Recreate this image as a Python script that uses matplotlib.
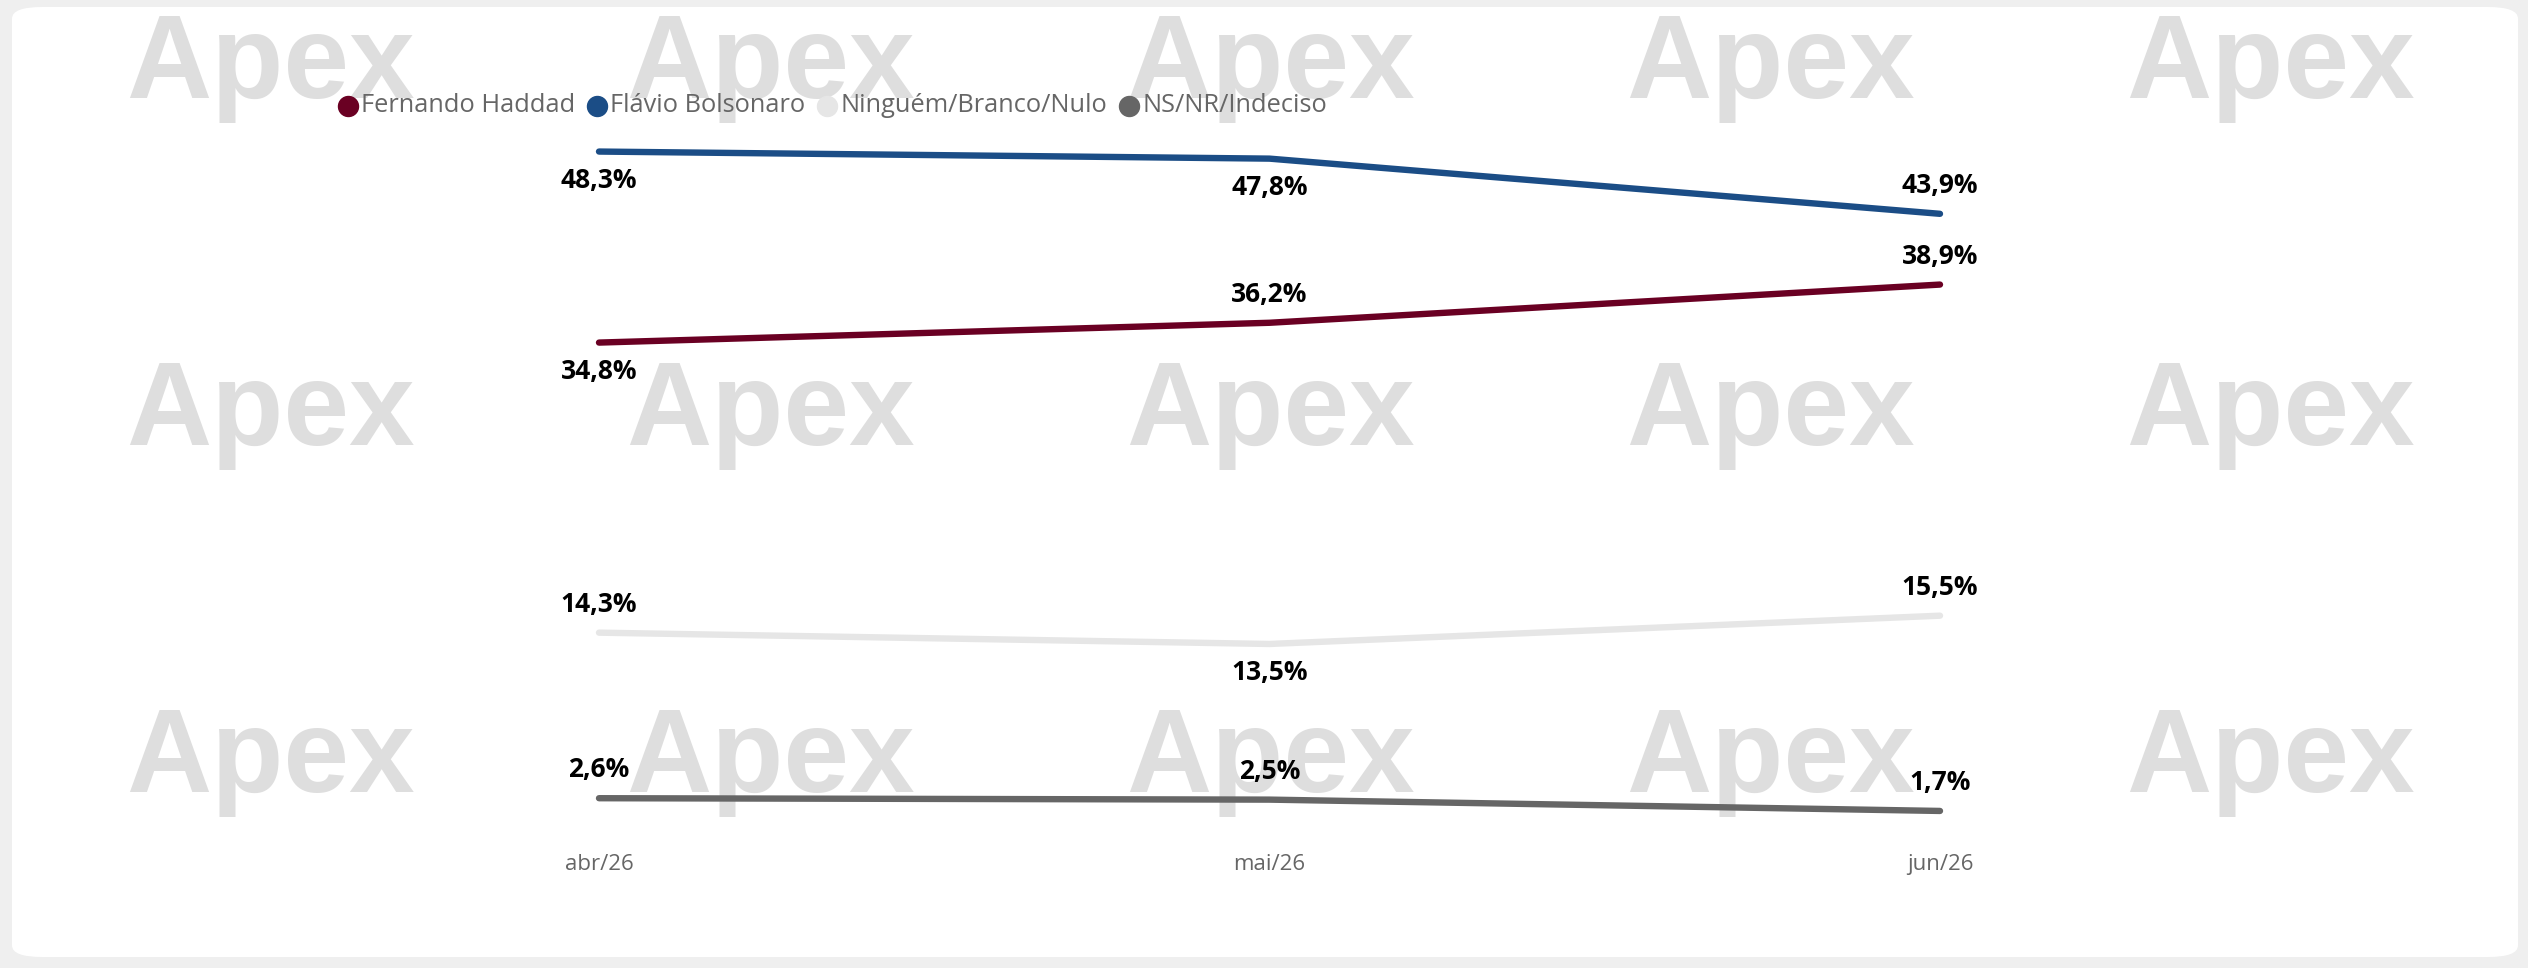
import matplotlib.pyplot as plt
from matplotlib.patches import FancyBboxPatch
from matplotlib.lines import Line2D

# dados
meses = ['abr/26', 'mai/26', 'jun/26']
series = ['Fernando Haddad', 'Flávio Bolsonaro', 'Ninguém/Branco/Nulo', 'NS/NR/Indeciso']
haddad = [34.8, 36.2, 38.9]
flavio = [48.3, 47.8, 43.9]
nenhum = [14.3, 13.5, 15.5]
nsnr = [2.6, 2.5, 1.7]

cores = ['#6A0023', '#1B4D86', '#E6E6E6', '#666666']
valores = [haddad, flavio, nenhum, nsnr]
# posição do rótulo: +1 acima, -1 abaixo
lados = [[-1, 1, 1], [-1, -1, 1], [1, -1, 1], [1, 1, 1]]

plt.rcParams['font.family'] = ['Open Sans', 'DejaVu Sans']

W, H = 2528, 968
fig = plt.figure(figsize=(W / 100, H / 100), dpi=100)
fig.patch.set_facecolor('#EFEFEF')

# cartão branco
card = FancyBboxPatch((12 / W, 11 / H), (2518 - 12) / W, (961 - 11) / H,
                      boxstyle='round,pad=0,rounding_size=0.012',
                      transform=fig.transFigure, facecolor='white',
                      edgecolor='none', zorder=-3)
fig.patches.append(card)

# marca d'água
for cx in [270, 770, 1270, 1770, 2270]:
    for by in [98, 445, 792]:
        fig.text(cx / W, 1 - by / H, 'Apex', ha='center', va='baseline',
                 fontsize=85, fontweight='bold', color='#DEDEDE',
                 family=['Liberation Sans', 'DejaVu Sans'], zorder=-2)

px_unit = 14.15
y0 = 835
ax = fig.add_axes([599 / W, (H - y0) / H, (1940 - 599) / W, 55 * px_unit / H])
ax.set_facecolor('none')
ax.set_xlim(0, 2)
ax.set_ylim(0, 55)
for s in ax.spines.values():
    s.set_visible(False)
ax.set_yticks([])
ax.set_xticks(range(len(meses)))
ax.set_xticklabels(meses, fontsize=16, color='#666666')
ax.tick_params(axis='x', length=0, pad=14)

x = list(range(len(meses)))
for vals, cor, lado in zip(valores, cores, lados):
    ax.plot(x, vals, color=cor, lw=4.6, solid_capstyle='round',
            solid_joinstyle='round', clip_on=False)
    for xi, v, s in zip(x, vals, lado):
        ax.annotate(f'{v:.1f}%'.replace('.', ','), (xi, v),
                    xytext=(0, 20.5 * s), textcoords='offset points',
                    ha='center', va='center', fontsize=19,
                    fontweight='bold', color='black')

# legenda
fig.canvas.draw()
r = fig.canvas.get_renderer()
lx = 338
ly = 1 - 106 / H
for nome, cor in zip(series, cores):
    fig.add_artist(Line2D([(lx + 10) / W], [ly], marker='o', markersize=14.4,
                          color=cor, linestyle='none',
                          transform=fig.transFigure))
    t = fig.text((lx + 23) / W, ly, nome, ha='left', va='center',
                 fontsize=18.3, color='#666666')
    wt = t.get_window_extent(r).width
    lx = lx + 23 + wt + 12

fig.savefig('out.png', dpi=100)
